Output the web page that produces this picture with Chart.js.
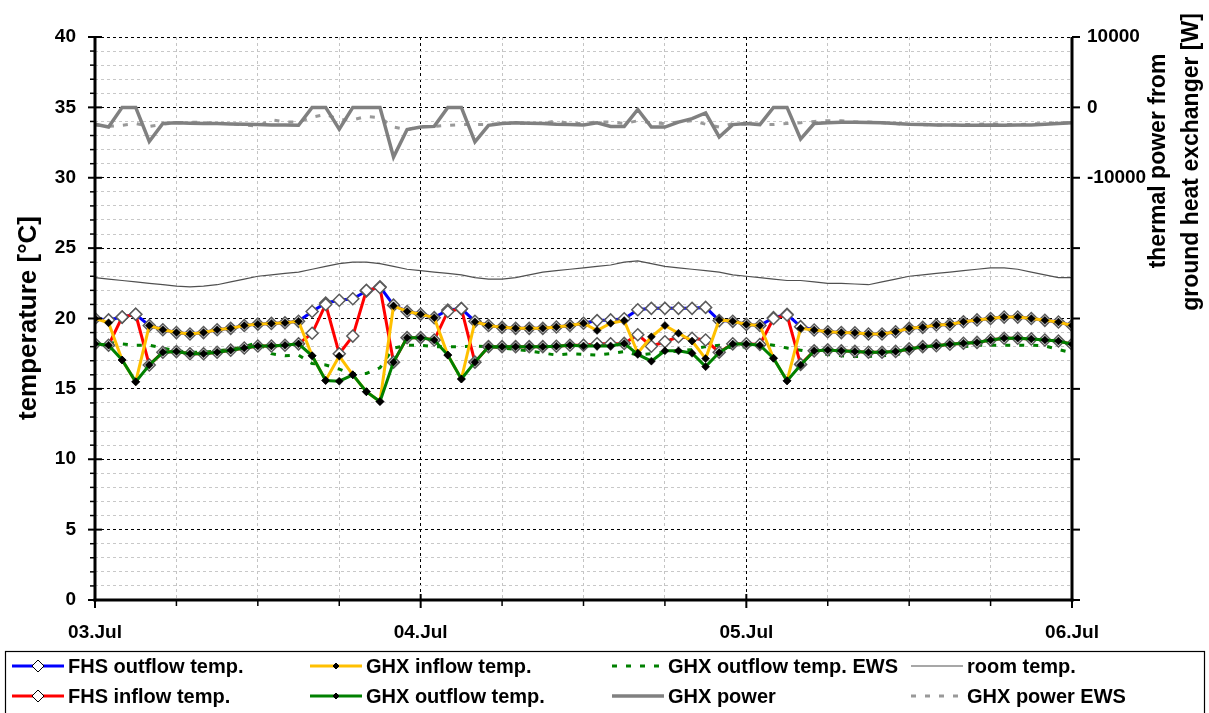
<!DOCTYPE html>
<html lang="en">
<head>
<meta charset="UTF-8">
<title>FHS / GHX temperatures 03.-06. Jul</title>
<style>
  html, body { margin: 0; padding: 0; background: #fff; }
  #wrap { width: 1209px; height: 713px; }
</style>
</head>
<body>
<div id="wrap"><canvas id="tempChart" width="1209" height="713"></canvas></div>

<script src="https://cdn.jsdelivr.net/npm/chart.js@4.4.0/dist/chart.umd.min.js"></script>
<script>
// --- data (hourly values, 03.Jul 00:00 .. 06.Jul 00:00) ---
const hours = [0, 1, 2, 3, 4, 5, 6, 7, 8, 9, 10, 11, 12, 13, 14, 15, 16, 17, 18, 19, 20, 21, 22, 23,
  24, 25, 26, 27, 28, 29, 30, 31, 32, 33, 34, 35, 36, 37, 38, 39, 40, 41, 42, 43, 44, 45, 46, 47,
  48, 49, 50, 51, 52, 53, 54, 55, 56, 57, 58, 59, 60, 61, 62, 63, 64, 65, 66, 67, 68, 69, 70, 71, 72];

const dayLabels = ['03.Jul', '04.Jul', '05.Jul', '06.Jul'];
const powerTickLabels = [10000, 0, -10000];

const fhsOutflow = [20.0, 19.9, 20.1, 20.3, 19.5, 19.2, 19.0, 18.9, 19.0, 19.2, 19.3, 19.5,
  19.6, 19.65, 19.7, 19.8, 20.5, 21.1, 21.3, 21.4, 21.95, 22.25, 20.95, 20.5,
  20.3, 20.06, 20.6, 20.7, 19.8, 19.5, 19.37, 19.3, 19.3, 19.3, 19.4, 19.5,
  19.66, 19.85, 19.9, 19.98, 20.62, 20.72, 20.72, 20.72, 20.72, 20.79, 19.85, 19.8,
  19.58, 19.5, 20.06, 20.3, 19.42, 19.18, 19.06, 19.0, 18.99, 18.9, 18.9, 19.06,
  19.3, 19.37, 19.54, 19.58, 19.77, 19.9, 20.0, 20.1, 20.1, 20.0, 19.87, 19.75, 19.5];

const fhsInflow = [18.2, 18.1, 20.1, 20.3, 16.7, 17.6, 17.65, 17.5, 17.5, 17.6, 17.75, 17.9,
  18.05, 18.05, 18.1, 18.2, 18.95, 21.0, 17.5, 18.75, 22.0, 22.2, 16.9, 18.64,
  18.64, 18.47, 20.5, 20.7, 16.9, 18.0, 18.0, 18.0, 18.0, 18.0, 18.03, 18.1,
  18.1, 18.2, 18.2, 18.23, 18.85, 18.03, 18.35, 18.7, 18.6, 18.47, 17.6, 18.2,
  18.2, 18.15, 20.0, 20.25, 16.74, 17.7, 17.77, 17.7, 17.66, 17.6, 17.6, 17.66,
  17.84, 18.0, 18.07, 18.17, 18.24, 18.3, 18.47, 18.6, 18.6, 18.55, 18.47, 18.4, 18.17];

const ghxInflow = [20.0, 19.7, 17.05, 15.5, 19.5, 19.2, 19.0, 18.9, 19.0, 19.2, 19.3, 19.5,
  19.6, 19.65, 19.7, 19.8, 17.35, 15.6, 17.33, 16.0, 14.8, 14.1, 20.9, 20.5,
  20.3, 20.06, 17.4, 15.7, 19.77, 19.5, 19.37, 19.3, 19.3, 19.3, 19.4, 19.5,
  19.66, 19.15, 19.66, 19.85, 17.55, 18.7, 19.5, 18.95, 18.4, 17.15, 19.9, 19.8,
  19.58, 19.5, 17.18, 15.57, 19.3, 19.18, 19.06, 19.0, 18.99, 18.9, 18.9, 19.06,
  19.3, 19.37, 19.54, 19.58, 19.77, 19.9, 20.0, 20.1, 20.1, 20.0, 19.87, 19.75, 19.5];

const ghxOutflow = [18.2, 18.1, 17.05, 15.5, 16.7, 17.6, 17.65, 17.5, 17.5, 17.6, 17.75, 17.9,
  18.05, 18.05, 18.1, 18.2, 17.35, 15.6, 15.55, 16.0, 14.8, 14.1, 16.9, 18.64,
  18.64, 18.47, 17.4, 15.7, 16.9, 18.0, 18.0, 18.0, 18.0, 18.0, 18.03, 18.1,
  18.05, 18.05, 18.05, 18.23, 17.45, 16.97, 17.7, 17.7, 17.53, 16.58, 17.58, 18.18,
  18.18, 18.1, 17.18, 15.57, 16.7, 17.7, 17.77, 17.7, 17.66, 17.6, 17.6, 17.66,
  17.84, 18.0, 18.07, 18.17, 18.24, 18.3, 18.47, 18.6, 18.6, 18.55, 18.47, 18.4, 18.17];

const ghxOutflowEws = [18.2, 18.3, 18.2, 18.1, 18.1, 17.9, 17.7, 17.6, 17.6, 17.7, 17.8, 18.0,
  18.3, 17.5, 17.35, 17.4, 16.8, 16.7, 16.4, 16.05, 16.1, 16.5, 17.9, 18.1,
  18.1, 18.0, 18.0, 18.0, 18.05, 18.0, 17.9, 17.8, 17.7, 17.55, 17.4, 17.5,
  17.45, 17.4, 17.5, 17.65, 17.4, 17.5, 17.6, 17.7, 17.8, 18.0, 18.1, 17.9,
  18.0, 18.25, 18.1, 17.9, 17.75, 17.55, 17.45, 17.35, 17.3, 17.3, 17.35, 17.4,
  17.7, 17.9, 18.2, 18.1, 18.0, 18.1, 18.1, 18.1, 18.1, 18.1, 18.05, 17.8, 17.55];

const roomTemp = [22.9, 22.8, 22.7, 22.6, 22.5, 22.4, 22.3, 22.25, 22.3, 22.4, 22.6, 22.8,
  23.0, 23.1, 23.2, 23.3, 23.5, 23.7, 23.9, 24.0, 24.0, 23.9, 23.7, 23.5,
  23.4, 23.3, 23.2, 23.1, 22.9, 22.8, 22.8, 22.9, 23.1, 23.3, 23.4, 23.5,
  23.6, 23.7, 23.8, 24.0, 24.1, 23.9, 23.7, 23.6, 23.5, 23.4, 23.3, 23.1,
  23.0, 22.9, 22.8, 22.7, 22.7, 22.6, 22.5, 22.5, 22.45, 22.4, 22.6, 22.8,
  23.0, 23.1, 23.2, 23.3, 23.4, 23.5, 23.6, 23.6, 23.5, 23.3, 23.1, 22.9, 22.9];

const ghxPower = [-2400, -2800, 0, 0, -4850, -2300, -2200, -2250, -2300, -2300, -2350, -2400,
  -2450, -2500, -2500, -2550, 0, 0, -3100, 0, 0, 0, -7050, -3150,
  -2800, -2700, 0, 0, -4900, -2550, -2300, -2200, -2250, -2300, -2400, -2450,
  -2500, -2200, -2700, -2700, -300, -2800, -2800, -2100, -1600, -800, -4200, -2450,
  -2300, -2450, 0, 0, -4500, -2300, -2180, -2100, -2100, -2150, -2200, -2300,
  -2400, -2450, -2500, -2500, -2550, -2550, -2500, -2550, -2500, -2500, -2400, -2300, -2200];

const ghxPowerEws = [-2500, -2700, -2540, -2300, -2700, -2400, -2200, -2100, -2150, -2300, -2300, -2500,
  -2700, -1750, -2070, -2070, -1400, -1000, -1750, -1750, -1300, -1450, -2800, -3170,
  -2700, -2700, -2540, -2450, -2450, -2450, -2300, -2300, -2300, -2300, -1900, -2300,
  -2300, -2070, -2070, -2300, -1900, -2200, -2300, -2070, -1900, -2400, -2800, -2300,
  -2400, -2450, -2450, -2300, -2180, -2000, -1900, -1900, -2070, -2070, -2180, -2300,
  -2450, -2450, -2500, -2500, -2450, -2400, -2300, -2450, -2450, -2350, -2300, -2200, -2200];

const FONT = "'Liberation Sans', Arial, sans-serif";

// legend slots, row-major: which dataset goes where
const legendOrder = [3, 1, 4, 5, 2, 0, 6, 7];
const legendColX = [12, 310, 612, 911];
const legendRowY = [666, 696];

// --- plugins ---
function line(ctx, x1, y1, x2, y2) {
    ctx.beginPath();
    ctx.moveTo(x1, y1);
    ctx.lineTo(x2, y2);
    ctx.stroke();
}

function diamond(ctx, x, y, r) {
    ctx.beginPath();
    ctx.moveTo(x - r, y);
    ctx.lineTo(x, y - r);
    ctx.lineTo(x + r, y);
    ctx.lineTo(x, y + r);
    ctx.closePath();
}

// axis lines + tick marks (major ticks cross the axis, minor only outside)
const axisMarks = {
    id: 'axisMarks',
    afterDraw(chart) {
        const { ctx, chartArea: a, scales } = chart;
        ctx.save();
        ctx.strokeStyle = '#000';
        scales.y.ticks.forEach(t => {
            const py = scales.y.getPixelForValue(t.value);
            if (t.value % 5 === 0) {
                ctx.lineWidth = 2;
                line(ctx, a.left - 7, py, a.left + 7, py);
            } else {
                ctx.lineWidth = 1.5;
                line(ctx, a.left - 5, py, a.left, py);
            }
        });
        scales.y1.ticks.forEach(t => {
            const py = scales.y1.getPixelForValue(t.value);
            ctx.lineWidth = 2;
            line(ctx, a.right, py, a.right + 8, py);
        });
        scales.x.ticks.forEach(t => {
            const px = scales.x.getPixelForValue(t.value);
            if (t.value % 24 === 0) {
                ctx.lineWidth = 2;
                line(ctx, px, a.bottom - 6, px, a.bottom + 8);
            } else {
                ctx.lineWidth = 1.5;
                line(ctx, px, a.bottom, px, a.bottom + 6);
            }
        });
        ctx.lineWidth = 3;
        line(ctx, a.left, a.top, a.left, a.bottom + 1.5);
        line(ctx, a.right, a.top, a.right, a.bottom + 1.5);
        line(ctx, a.left - 1.5, a.bottom, a.right + 1.5, a.bottom);
        ctx.restore();
    }
};

// rotated axis titles (both read bottom to top)
const axisTitles = {
    id: 'axisTitles',
    afterDraw(chart) {
        const { ctx } = chart;
        ctx.save();
        ctx.fillStyle = '#000';
        ctx.textAlign = 'center';
        ctx.textBaseline = 'middle';
        const put = (text, x, y, size) => {
            ctx.save();
            ctx.translate(x, y);
            ctx.rotate(-Math.PI / 2);
            ctx.font = 'bold ' + size + 'px ' + FONT;
            ctx.fillText(text, 0, 0);
            ctx.restore();
        };
        put('temperature [°C]', 29, 318, 26);
        put('thermal power from', 1159, 161, 23);
        put('ground heat exchanger [W]', 1192, 162, 23);
        ctx.restore();
    }
};

// boxed legend, 2 rows x 4 columns
const boxLegend = {
    id: 'boxLegend',
    afterDraw(chart) {
        const { ctx } = chart;
        ctx.save();
        ctx.strokeStyle = '#000';
        ctx.lineWidth = 1.2;
        ctx.strokeRect(5.5, 651.5, 1199, 80);
        ctx.font = 'bold 20px ' + FONT;
        ctx.textBaseline = 'middle';
        ctx.textAlign = 'left';
        legendOrder.forEach((dsIndex, slot) => {
            const ds = chart.data.datasets[dsIndex];
            const x = legendColX[slot % 4];
            const y = legendRowY[Math.floor(slot / 4)];
            ctx.save();
            ctx.strokeStyle = ds.borderColor;
            ctx.lineWidth = ds.borderWidth;
            ctx.setLineDash(ds.borderDash || []);
            line(ctx, x, y, x + 52, y);
            ctx.setLineDash([]);
            if (ds.pointRadius > 0) {
                const r = ds.pointRadius > 5 ? 6 : 3;
                diamond(ctx, x + 26, y, r);
                ctx.fillStyle = ds.pointBackgroundColor;
                ctx.fill();
                ctx.lineWidth = 1;
                ctx.strokeStyle = '#000';
                ctx.stroke();
            }
            ctx.restore();
            ctx.fillStyle = '#000';
            ctx.fillText(ds.label, x + 56, y + 1);
        });
        ctx.restore();
    }
};

// --- chart ---
const openMarker = {
    pointStyle: 'rectRot', pointRadius: 6, pointBorderWidth: 1.5,
    pointBorderColor: '#5a5a5a', pointBackgroundColor: '#ffffff'
};
const dotMarker = {
    pointStyle: 'rectRot', pointRadius: 4, pointBorderWidth: 0.5,
    pointBorderColor: '#000000', pointBackgroundColor: '#000000'
};

const ctx = document.getElementById('tempChart').getContext('2d');
const tempChart = new Chart(ctx, {
    type: 'line',
    data: {
        labels: hours,
        datasets: [
            // index 0 is drawn on top
            { label: 'GHX outflow temp.', data: ghxOutflow, yAxisID: 'y',
              borderColor: '#008000', borderWidth: 3, ...dotMarker },
            { label: 'GHX inflow temp.', data: ghxInflow, yAxisID: 'y',
              borderColor: '#ffc000', borderWidth: 3, ...dotMarker },
            { label: 'FHS inflow temp.', data: fhsInflow, yAxisID: 'y',
              borderColor: '#ff0000', borderWidth: 3, ...openMarker },
            { label: 'FHS outflow temp.', data: fhsOutflow, yAxisID: 'y',
              borderColor: '#0000ff', borderWidth: 3, ...openMarker },
            { label: 'GHX outflow temp. EWS', data: ghxOutflowEws, yAxisID: 'y',
              borderColor: '#008000', borderWidth: 3, borderDash: [5, 9], pointRadius: 0 },
            { label: 'room temp.', data: roomTemp, yAxisID: 'y',
              borderColor: '#505050', borderWidth: 1.2, pointRadius: 0 },
            { label: 'GHX power', data: ghxPower, yAxisID: 'y1',
              borderColor: '#808080', borderWidth: 3.5, pointRadius: 0 },
            { label: 'GHX power EWS', data: ghxPowerEws, yAxisID: 'y1',
              borderColor: '#999999', borderWidth: 3, borderDash: [5, 9], pointRadius: 0 }
        ]
    },
    options: {
        responsive: false,
        animation: false,
        layout: { padding: { top: 37, left: 0, right: 0, bottom: 0 } },
        elements: { line: { tension: 0, fill: false } },
        plugins: {
            legend: { display: false },
            tooltip: { enabled: false }
        },
        scales: {
            x: {
                type: 'linear',
                min: 0,
                max: 72,
                afterFit: s => { s.height = 113; },
                border: { display: false, dash: [3, 3] },
                grid: {
                    drawTicks: false,
                    lineWidth: 1,
                    color: c => (c.tick && c.tick.value % 24 === 0) ? '#000000' : '#c4c4c4'
                },
                ticks: {
                    stepSize: 6,
                    autoSkip: false,
                    maxRotation: 0,
                    padding: 21,
                    color: '#000',
                    font: { family: FONT, size: 19, weight: 'bold' },
                    callback: v => v % 24 === 0 ? dayLabels[v / 24] : ''
                }
            },
            y: {
                position: 'left',
                min: 0,
                max: 40,
                afterFit: s => { s.width = 95; },
                border: { display: false, dash: [3, 3] },
                grid: {
                    drawTicks: false,
                    lineWidth: 1,
                    color: c => (c.tick && c.tick.value % 5 === 0) ? '#000000' : '#c8c8c8'
                },
                ticks: {
                    stepSize: 1,
                    autoSkip: false,
                    padding: 19,
                    color: '#000',
                    font: { family: FONT, size: 19, weight: 'bold' },
                    callback: v => v % 5 === 0 ? v : ''
                }
            },
            y1: {
                position: 'right',
                min: -70000,
                max: 10000,
                afterFit: s => { s.width = 137; },
                border: { display: false },
                grid: { drawOnChartArea: false, drawTicks: false },
                ticks: {
                    stepSize: 10000,
                    autoSkip: false,
                    padding: 15,
                    color: '#000',
                    font: { family: FONT, size: 19, weight: 'bold' },
                    callback: v => powerTickLabels.includes(v) ? v : ''
                }
            }
        }
    },
    plugins: [axisMarks, axisTitles, boxLegend]
});
</script>
</body>
</html>
